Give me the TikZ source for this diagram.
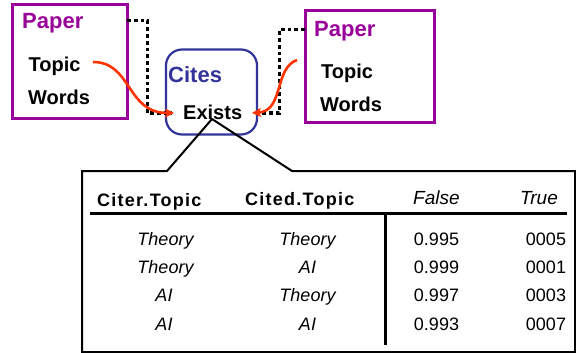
\documentclass[tikz,border=0pt]{standalone}
\usepackage{fontspec}
\setmainfont{Liberation Sans}
\newfontfamily\hdrfont[LetterSpace=7]{Liberation Sans}
\usetikzlibrary{arrows.meta}
\definecolor{ppl}{RGB}{153,0,153}
\definecolor{cblue}{RGB}{51,51,153}
\definecolor{ared}{RGB}{255,51,0}
\tikzset{
  lbl/.style={anchor=base west,inner sep=0pt,font=\fontsize{20}{24}\selectfont\bfseries},
  ptitle/.style={lbl,text=ppl,font=\fontsize{22}{26}\selectfont\bfseries},
  pbox/.style={draw=ppl,line width=3pt,inner sep=0pt},
  dotline/.style={line width=3.8pt,dash pattern=on 3.8pt off 3pt},
  redarrow/.style={draw=ared,line width=2.6pt,-{Stealth[length=9pt,width=9pt,inset=2pt]}},
  hdr/.style={anchor=base west,inner sep=0pt,font=\hdrfont\fontsize{18}{22}\selectfont\bfseries},
  hdri/.style={anchor=base west,inner sep=0pt,font=\fontsize{19}{22}\selectfont\itshape},
  cell/.style={anchor=base,inner sep=0pt,font=\fontsize{18}{22}\selectfont},
  celli/.style={cell,font=\fontsize{18}{22}\selectfont\itshape}
}
\begin{document}
\begin{tikzpicture}[x=1pt,y=-1pt]
\useasboundingbox (0,0) rectangle (576,353);
% left paper
\node[pbox,minimum width=115pt,minimum height=113pt] (p1) at (69.5,61.5) {};
\node[ptitle] (p1t) at (22,29) {Paper};
\node[lbl] (p1topic) at (28.5,71) {Topic};
\node[lbl] (p1words) at (28,105) {Words};
% right paper
\node[pbox,minimum width=129pt,minimum height=111pt] (p2) at (369.5,66.5) {};
\node[ptitle] (p2t) at (314,37) {Paper};
\node[lbl] (p2topic) at (321,78) {Topic};
\node[lbl] (p2words) at (320,111) {Words};
% cites
\node[draw=cblue,line width=2.2pt,rounded corners=16pt,minimum width=91pt,minimum height=85pt,inner sep=0pt] (cites) at (211.5,92) {};
\node[lbl,text=cblue,font=\fontsize{22}{26}\selectfont\bfseries] (citest) at (168,83) {Cites};
\node[lbl] (exists) at (183,120) {Exists};
% dotted links
\coordinate (d1a) at (127,20.5);
\coordinate (d1b) at (147.5,20.5);
\coordinate (d1c) at (147.5,113);
\coordinate (d1d) at (171,113);
\draw[dotline] (d1a) -- (d1b) -- (d1c) -- (d1d);
\coordinate (d2a) at (305,29.5);
\coordinate (d2b) at (279.5,29.5);
\coordinate (d2c) at (279.5,113);
\coordinate (d2d) at (256,113);
\draw[dotline] (d2a) -- (d2b) -- (d2c) -- (d2d);
% red arrows
\coordinate (r1s) at (93,62);
\coordinate (r1e) at (174,113);
\draw[redarrow] (r1s) .. controls (132,62) and (126,113) .. (r1e);
\coordinate (r2s) at (297,60);
\coordinate (r2e) at (252,113);
\draw[redarrow] (r2s) .. controls (274,68) and (284,111) .. (r2e);
% callout table box
\coordinate (apex) at (212,119);
\coordinate (cl) at (167,171);
\coordinate (cr) at (292,171);
\coordinate (tr) at (575,171);
\coordinate (br) at (575,352);
\coordinate (bl) at (82,352);
\coordinate (tl) at (82,171);
\draw[line width=2pt,line join=miter] (cl) -- (apex) -- (cr) -- (tr) -- (br) -- (bl) -- (tl) -- cycle;
% headers
\node[hdr] (h1) at (97,206) {Citer.Topic};
\node[hdr] (h2) at (245,205) {Cited.Topic};
\node[hdri] (h3) at (413,204) {False};
\node[hdri] (h4) at (520,204) {True};
\coordinate (hl1) at (90,213.5);
\coordinate (hl2) at (567,213.5);
\draw[line width=2.6pt] (hl1) -- (hl2);
\coordinate (vl1) at (385.5,213.5);
\coordinate (vl2) at (385.5,345);
\draw[line width=3.2pt] (vl1) -- (vl2);
% rows
\node[celli] (a1) at (165.5,245) {Theory};
\node[celli] (b1) at (307.5,245) {Theory};
\node[cell] (c1) at (436.5,245) {0.995};
\node[cell] (e1) at (546,245) {0005};
\node[celli] (a2) at (165.5,273) {Theory};
\node[celli] (b2) at (307.5,273) {AI};
\node[cell] (c2) at (436.5,273) {0.999};
\node[cell] (e2) at (546,273) {0001};
\node[celli] (a3) at (164,301) {AI};
\node[celli] (b3) at (307.5,301) {Theory};
\node[cell] (c3) at (436.5,301) {0.997};
\node[cell] (e3) at (546,301) {0003};
\node[celli] (a4) at (164,330) {AI};
\node[celli] (b4) at (307.5,330) {AI};
\node[cell] (c4) at (436.5,330) {0.993};
\node[cell] (e4) at (546,330) {0007};
\end{tikzpicture}
\end{document}
